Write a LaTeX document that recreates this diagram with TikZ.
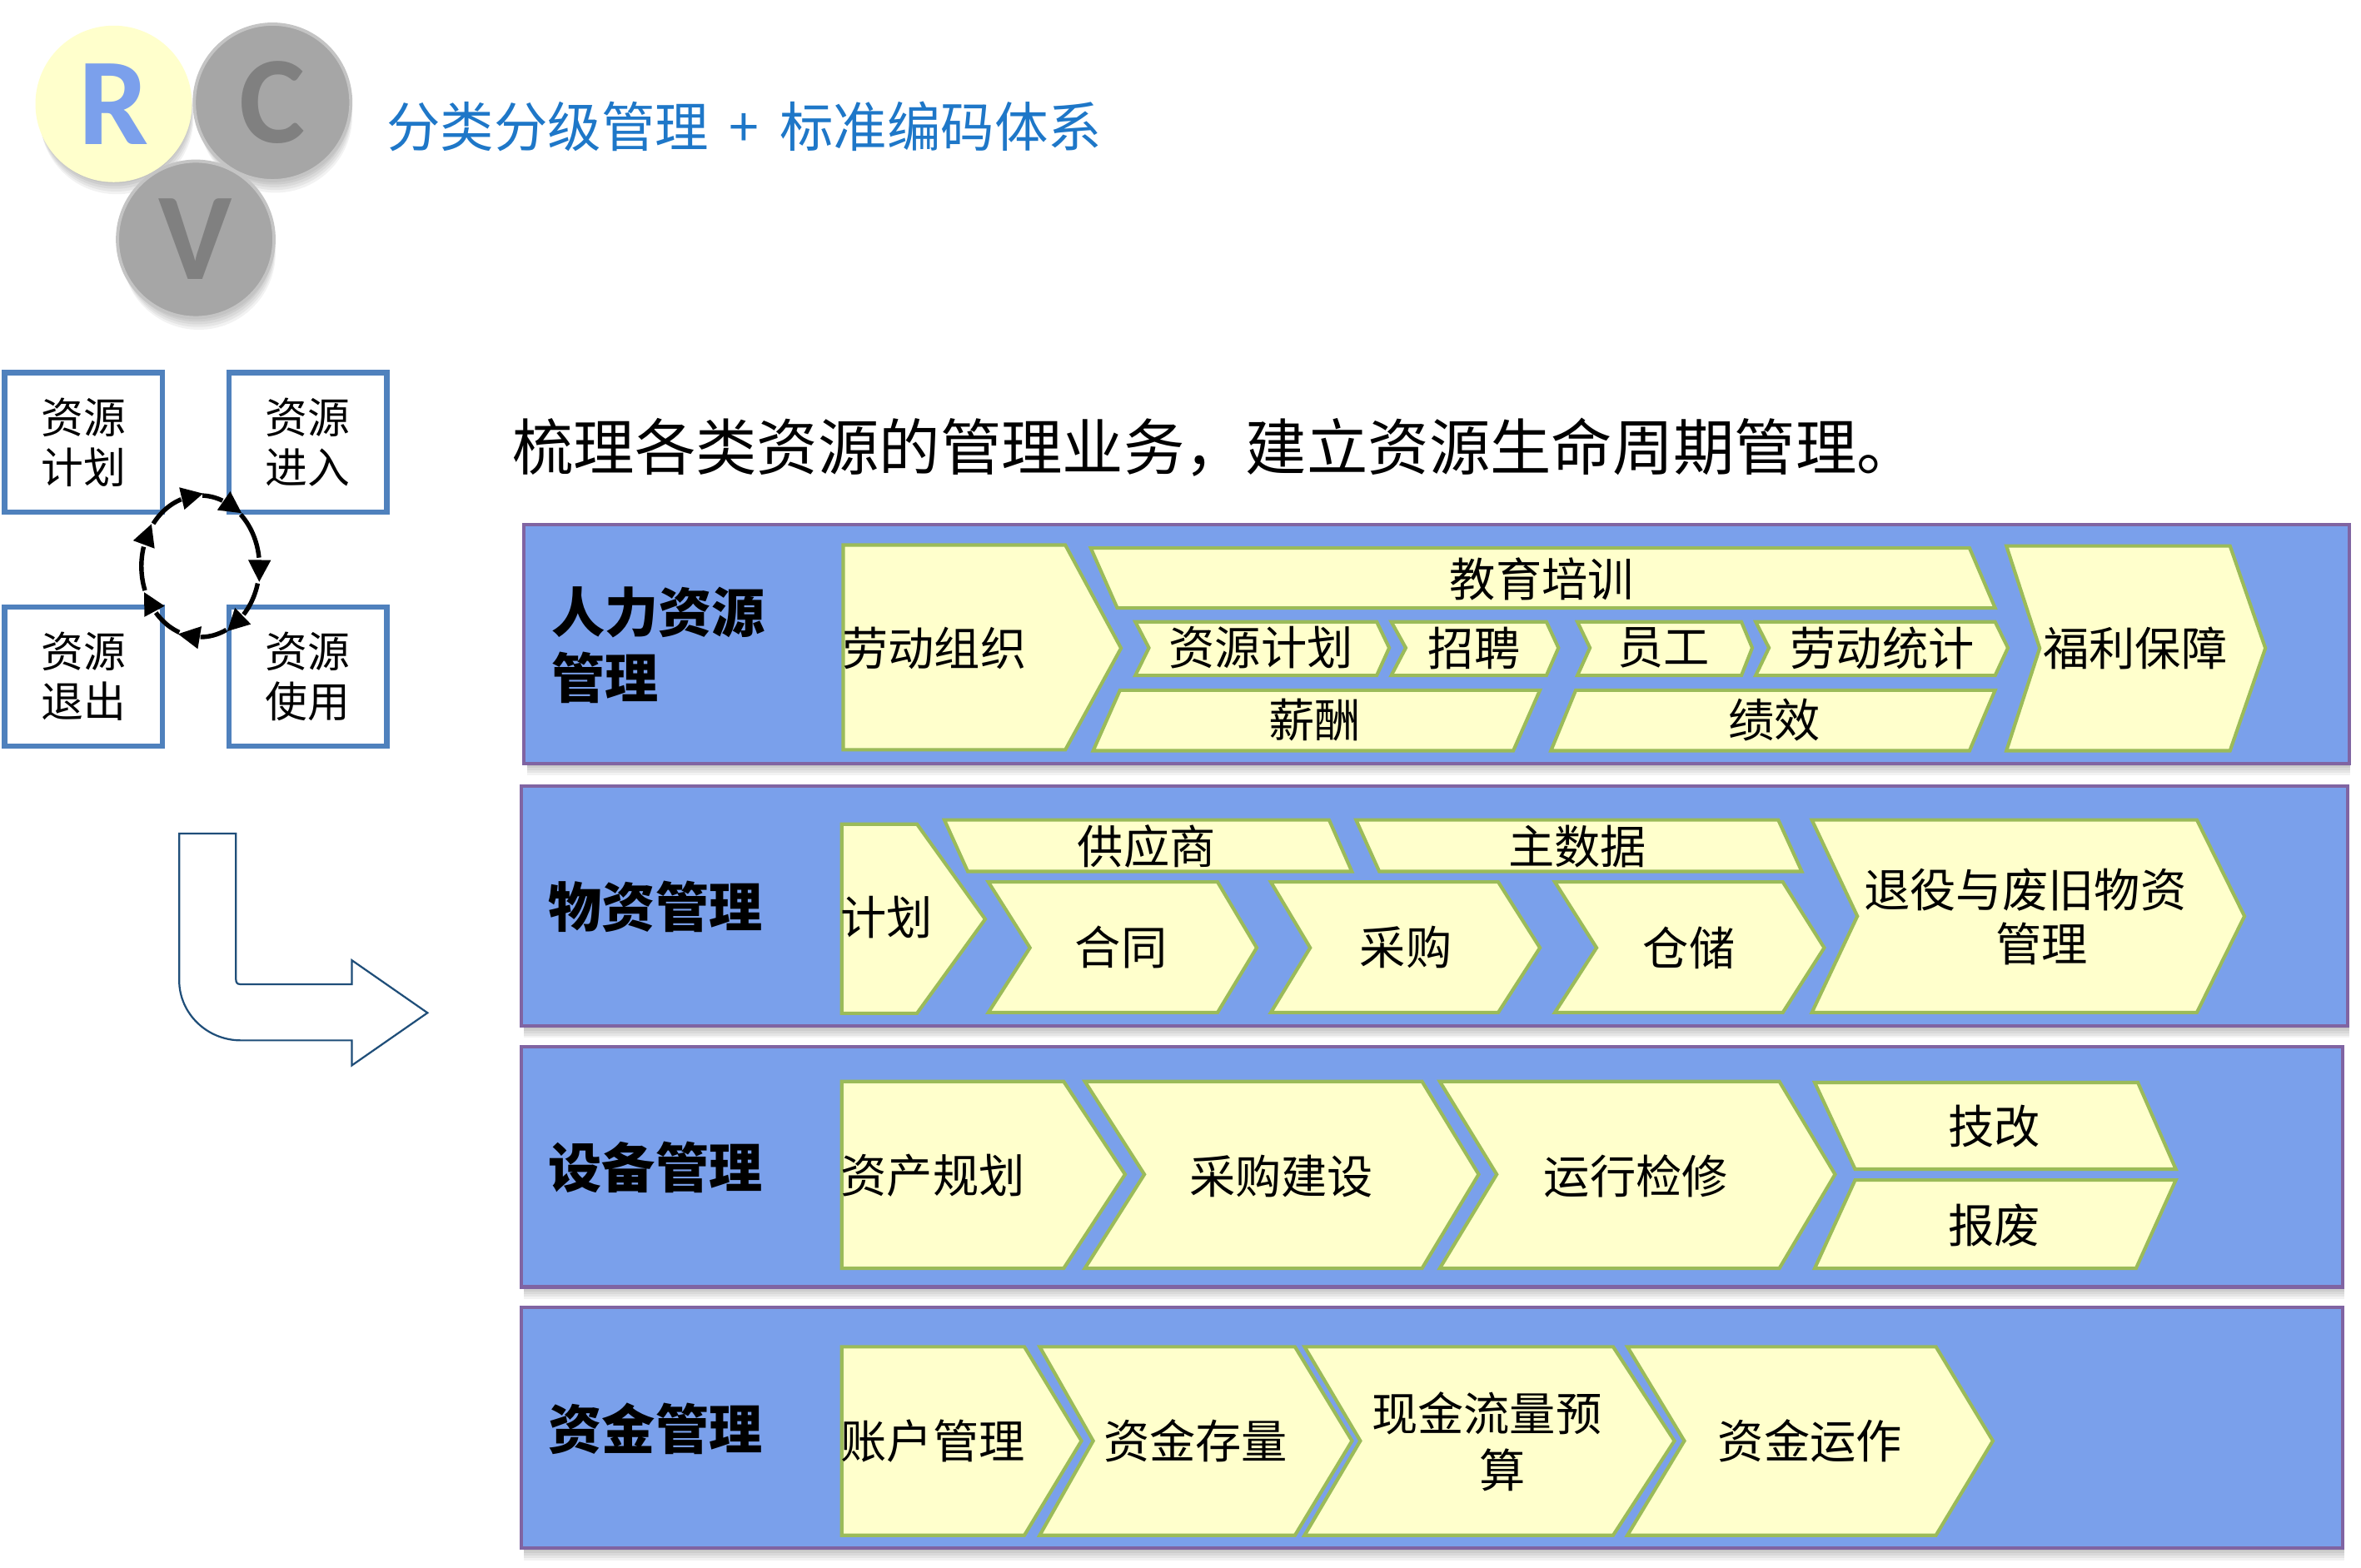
\documentclass[tikz,border=0pt]{standalone}
\usepackage{fontspec}
\setmainfont{Noto Sans CJK SC}
\newfontfamily\carlito{Carlito}
\definecolor{bandfill}{HTML}{7AA0EB}
\definecolor{bandline}{HTML}{8064A2}
\definecolor{chevfill}{HTML}{FFFFCC}
\definecolor{chevline}{HTML}{9BBB59}
\definecolor{boxline}{HTML}{4F81BD}
\definecolor{titleblue}{HTML}{1E77C8}
\definecolor{circgray}{HTML}{A6A6A6}
\definecolor{circedge}{HTML}{C4C4C4}
\definecolor{lettergray}{HTML}{808080}
\definecolor{letterblue}{HTML}{7BA0EC}
\definecolor{arrowline}{HTML}{1F4E79}
\tikzset{
  band/.style={fill=bandfill, draw=bandline, line width=1.3pt},
  chev/.style={fill=chevfill, draw=chevline, line width=1.3pt, line join=miter},
  ct/.style={inner sep=0pt, font=\fontsize{17.4pt}{21pt}\selectfont},
  lab/.style={inner sep=0pt, anchor=west, font=\fontsize{20.2pt}{24pt}\selectfont\bfseries},
  rbox/.style={draw=boxline, line width=2pt, fill=white, minimum width=2.1cm, minimum height=1.85cm, inner sep=0pt, align=center, font=\fontsize{16pt}{19.1pt}\selectfont},
  ball/.style={circle, minimum size=2.08cm, inner sep=0pt, font=\carlito\bfseries\fontsize{47pt}{50pt}\selectfont},
}
\begin{document}
\begin{tikzpicture}[x=0.02cm, y=-0.02cm]
\fill[white] (0,0) rectangle (1568,1041.45);
\useasboundingbox (0,0) rectangle (1568,1041.45);

% circle shadows
\foreach \cx/\cy in {75.5/69, 181/68, 130/159}{
  \foreach \d in {1,...,5}{
    \fill[black, opacity=0.05] ({\cx+0.4*\d},{\cy+1.8*\d}) circle [radius=51];
  }
}
\node[ball, fill=chevfill, text=letterblue] (R) at (75.5,69) {R};
\node[ball, fill=circgray, draw=circedge, line width=1.2pt, text=lettergray] (C) at (181,68) {C};
\node[ball, fill=circgray, draw=circedge, line width=1.2pt, text=lettergray] (V) at (130,159) {V};

% title
\node[anchor=west, inner sep=0pt, text=titleblue, font=\fontsize{20.3pt}{24pt}\selectfont] (title) at (256.5,84) {分类分级管理\hspace{0.38em}+\hspace{0.38em}标准编码体系};

% lifecycle boxes
\node[rbox] (b1) at (55.5,293.75) {资源\\计划};
\node[rbox] (b2) at (204.5,293.75) {资源\\进入};
\node[rbox] (b3) at (55.5,449.25) {资源\\退出};
\node[rbox] (b4) at (204.5,449.25) {资源\\使用};

% dashed cycle
\foreach \s/\e in {143/109, 88/68, 47/7, -14/-43, -64/-90, -111/-139, -160/-196}{
  \draw[line width=1.7pt] plot[domain=\s:\e, samples=15, smooth] ({133.1+39.2*cos(\x)},{376.1-47*sin(\x)});
}
\foreach \a in {101,60,-1,-51,-98,-147,156}{
  \pgfmathsetmacro\cx{133.1+39.2*cos(\a)}
  \pgfmathsetmacro\cy{376.1-47*sin(\a)}
  \pgfmathsetmacro\tx{39.2*sin(\a)}
  \pgfmathsetmacro\ty{47*cos(\a)}
  \pgfmathsetmacro\tl{sqrt((\tx)*(\tx)+(\ty)*(\ty))}
  \pgfmathsetmacro\ux{(\tx)/(\tl)}
  \pgfmathsetmacro\uy{(\ty)/(\tl)}
  \fill ({\cx+9.5*(\ux)},{\cy+9.5*(\uy)}) -- ({\cx-5*(\ux)-7.6*(\uy)},{\cy-5*(\uy)+7.6*(\ux)}) -- ({\cx-5*(\ux)+7.6*(\uy)},{\cy-5*(\uy)-7.6*(\ux)}) -- cycle;
}

% bent arrow
\draw[arrowline, line width=0.7pt, line join=miter] (119,553.6) -- (156.7,553.6) -- (156.7,650.5) .. controls (156.7,652.5) and (157.5,653.7) .. (159.5,653.7) -- (233.7,653.7) -- (233.7,637.8) -- (283.9,672.7) -- (233.7,707.6) -- (233.7,691) -- (160,691) .. controls (137.4,691) and (119,673.1) .. (119,651) -- cycle;

% heading
\node[anchor=west, inner sep=0pt, font=\fontsize{23.1pt}{28pt}\selectfont] (head) at (340,297) {梳理各类资源的管理业务，建立资源生命周期管理。};

% band shadows
\foreach \xa/\ya/\xb/\yb in {348/348.5/1560/507, 346/522/1559/681.4, 346/695.3/1556/854.8, 346/868.4/1556/1028.3}{
  \foreach \d in {1,...,5}{
    \fill[black, opacity=0.05] ({\xa+2},{\ya+1.6*\d}) rectangle ({\xb+1},{\yb+1.6*\d});
  }
}
% bands
\draw[band] (348,348.5) rectangle (1560,507);
\draw[band] (346,522) rectangle (1559,681.4);
\draw[band] (346,695.3) rectangle (1556,854.8);
\draw[band] (346,868.4) rectangle (1556,1028.3);

% --- HR band
\draw[chev] (560,362) -- (707.5,362) -- (744.5,430.5) -- (707.5,498) -- (560,498) -- cycle;
\draw[chev] (724.4,364) -- (1308,364) -- (1325,403.8) -- (742,403.8) -- cycle;
\draw[chev] (754,413) -- (914.3,413) -- (922.6,430.3) -- (914.3,448.6) -- (754,448.6) -- (763,430.3) -- cycle;
\draw[chev] (924,413) -- (1027,413) -- (1035,430.3) -- (1027,448.6) -- (924,448.6) -- (933.6,430.3) -- cycle;
\draw[chev] (1047.6,413) -- (1156.5,413) -- (1163.7,430.3) -- (1156.5,448.6) -- (1047.6,448.6) -- (1055.9,430.3) -- cycle;
\draw[chev] (1166,413) -- (1325,413) -- (1333.5,430.3) -- (1325,448.6) -- (1166,448.6) -- (1174.8,430.3) -- cycle;
\draw[chev] (743.8,458.4) -- (1022.7,458.4) -- (1005,498.6) -- (726,498.6) -- cycle;
\draw[chev] (1046.5,458.4) -- (1325,458.4) -- (1308,498.6) -- (1030,498.6) -- cycle;
\draw[chev] (1332.5,362.6) -- (1481,362.6) -- (1504.5,430.5) -- (1481,498.6) -- (1332.5,498.6) -- (1354.6,430.5) -- cycle;
\node[lab] (l1a) at (366,406.8) {人力资源};
\node[lab] (l1b) at (366,450) {管理};
\node[ct, anchor=west] (h1) at (559,430.5) {劳动组织};
\node[ct] (h2) at (1024,384.4) {教育培训};
\node[ct] (h3) at (837.5,430.3) {资源计划};
\node[ct] (h4) at (979,430.3) {招聘};
\node[ct] (h5) at (1105,430.3) {员工};
\node[ct] (h6) at (1250,430.3) {劳动统计};
\node[ct] (h7) at (873,478.4) {薪酬};
\node[ct] (h8) at (1178.6,478.4) {绩效};
\node[ct] (h9) at (1418,430.5) {福利保障};

% --- material band
\draw[chev] (559,547.4) -- (609,547.4) -- (654.3,610.5) -- (609,673) -- (559,673) -- cycle;
\draw[chev] (627.2,544.6) -- (882.7,544.6) -- (897.8,578.8) -- (642.7,578.8) -- cycle;
\draw[chev] (900.6,544.6) -- (1181,544.6) -- (1196.6,578.8) -- (916,578.8) -- cycle;
\draw[chev] (656.4,585.8) -- (808.6,585.8) -- (834.6,629.5) -- (808.6,672.5) -- (656.4,672.5) -- (684,629.5) -- cycle;
\draw[chev] (844,585.8) -- (995,585.8) -- (1022.7,629.5) -- (995,672.5) -- (844,672.5) -- (870.1,629.5) -- cycle;
\draw[chev] (1032.6,585.8) -- (1184,585.8) -- (1211.5,629.5) -- (1184,672.5) -- (1032.6,672.5) -- (1060.3,629.5) -- cycle;
\draw[chev] (1203.3,544.6) -- (1459,544.6) -- (1490.6,608.5) -- (1459,672.5) -- (1203.3,672.5) -- (1233.5,608.5) -- cycle;
\node[lab] (l2) at (364,602) {物资管理};
\node[ct, anchor=west] (m1) at (558,609.4) {计划};
\node[ct] (m2) at (761.4,562.3) {供应商};
\node[ct] (m3) at (1047.6,562.3) {主数据};
\node[ct] (m4) at (744.5,629.3) {合同};
\node[ct] (m5) at (933.6,629.4) {采购};
\node[ct] (m6) at (1121.7,629.4) {仓储};
\node[ct] (m7a) at (1345,591) {退役与废旧物资};
\node[ct] (m7b) at (1356,627) {管理};

% --- equipment band
\draw[chev] (559,718.3) -- (706.4,718.3) -- (747.2,780) -- (706.4,842.4) -- (559,842.4) -- cycle;
\draw[chev] (720.5,718.3) -- (944.4,718.3) -- (982,780) -- (944.4,842.4) -- (720.5,842.4) -- (760,780) -- cycle;
\draw[chev] (956.2,718.3) -- (1181.7,718.3) -- (1218.7,780) -- (1181.7,842.4) -- (956.2,842.4) -- (994,780) -- cycle;
\draw[chev] (1205.2,719) -- (1419.8,719) -- (1445,776.5) -- (1232,776.5) -- cycle;
\draw[chev] (1232,783.8) -- (1445,783.8) -- (1418.6,842.4) -- (1205.2,842.4) -- cycle;
\node[lab] (l3) at (364,775.4) {设备管理};
\node[ct, anchor=west] (e1) at (558,781) {资产规划};
\node[ct] (e2) at (851,781) {采购建设};
\node[ct] (e3) at (1086.5,781) {运行检修};
\node[ct] (e4) at (1324.5,748) {技改};
\node[ct] (e5) at (1324.5,814) {报废};

% --- finance band
\draw[chev] (559,894.5) -- (680.3,894.5) -- (718.2,957) -- (680.3,1019.7) -- (559,1019.7) -- cycle;
\draw[chev] (690.5,894.5) -- (860,894.5) -- (897.9,957) -- (860,1019.7) -- (690.5,1019.7) -- (726,957) -- cycle;
\draw[chev] (866.4,894.5) -- (1071.3,894.5) -- (1112,957) -- (1071.3,1019.7) -- (866.4,1019.7) -- (903.4,957) -- cycle;
\draw[chev] (1080.8,894.5) -- (1285.7,894.5) -- (1323.5,957) -- (1285.7,1019.7) -- (1080.8,1019.7) -- (1118.6,957) -- cycle;
\node[lab] (l4) at (364,949) {资金管理};
\node[ct, anchor=west] (f1) at (558,957) {账户管理};
\node[ct] (f2) at (794,957) {资金存量};
\node[ct] (f3a) at (987.4,938.6) {现金流量预};
\node[ct] (f3b) at (998,976.3) {算};
\node[ct] (f4) at (1202,957) {资金运作};
\end{tikzpicture}
\end{document}
